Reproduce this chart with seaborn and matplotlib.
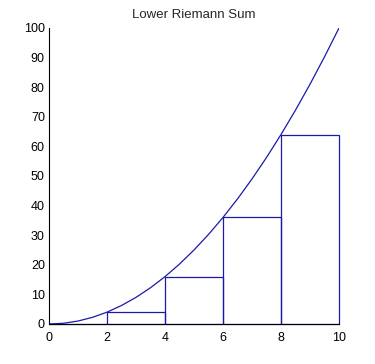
import numpy as np
import matplotlib.pyplot as plt
import seaborn as sns

sns.set_style("white")
plt.rcParams["font.family"] = ["Liberation Sans", "DejaVu Sans"]
plt.rcParams.update({'font.size': 9})

# curve points
curve_x = [0, 0.5, 1, 1.5, 2, 2.5, 3, 3.5, 4, 4.5, 5, 5.5, 6, 6.5, 7, 7.5, 8, 8.5, 9, 9.5, 10]
curve_y = [0, 0.25, 1, 2.25, 4, 6.25, 9, 12.25, 16, 20.25, 25, 30.25, 36, 42.25, 49, 56.25, 64, 72.25, 81, 90.25, 100]

# lower sum rectangles
rect_left = [0, 2, 4, 6, 8]
rect_height = [0, 4, 16, 36, 64]
rect_width = 2

blue = '#1a1aa8'

fig = plt.figure(figsize=(3.75, 3.64), dpi=100)
ax = fig.add_axes([0.1307, 0.1099, 0.7733, 0.8132])

sns.lineplot(x=curve_x, y=curve_y, ax=ax, color=blue, linewidth=0.9)
bars = ax.bar(rect_left, rect_height, width=rect_width, align='edge', fill=False,
              edgecolor=blue, linewidth=0.9)
for b in bars:
    b.set_clip_on(False)

ax.set_xlim(0, 10)
ax.set_ylim(0, 100)
ax.set_xticks(range(0, 11, 2))
ax.set_yticks(range(0, 101, 10))
ax.tick_params(direction='in', length=3, width=0.8, colors='black', pad=3)
ax.tick_params(axis='x', pad=6)
for s in ['top', 'right']:
    ax.spines[s].set_visible(False)
for s in ['left', 'bottom']:
    ax.spines[s].set_color('black')
    ax.spines[s].set_linewidth(0.8)
ax.set_title('Lower Riemann Sum', fontsize=9.5, pad=7)

plt.savefig("out.png", dpi=100)
